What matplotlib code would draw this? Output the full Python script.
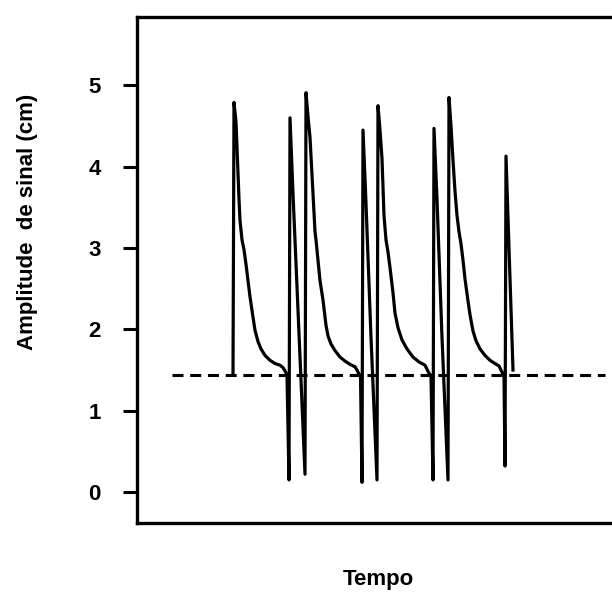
import numpy as np
import matplotlib.pyplot as plt

plt.rcParams['font.family'] = ['Liberation Sans', 'DejaVu Sans']
plt.rcParams['font.weight'] = 'bold'

# signal trace (time in arbitrary units, amplitude in cm)
tempo = [96, 97,
         99, 100, 102, 103, 105, 107, 109, 111, 113, 116, 118, 121, 124, 128, 133, 138, 143, 146, 148, 150,
         152, 153, 156, 162, 168, 169,
         171, 173, 176, 178, 179, 181, 183, 186, 189, 191, 194, 198, 203, 208, 213, 218, 220, 222, 223.5,
         225, 226, 229, 234, 240, 241,
         243, 245, 247, 249, 251, 253, 256, 258, 261, 265, 270, 276, 282, 288, 290, 292, 294,
         296, 297, 300, 305, 311, 312,
         314, 316, 318, 320, 322, 324, 326, 328, 331, 333, 336, 339, 343, 348, 353, 358, 362, 364, 366, 367,
         368, 369, 372, 376]
amplitude = [1.44, 4.79,
             4.55, 4.24, 3.60, 3.34, 3.10, 2.98, 2.80, 2.60, 2.40, 2.15, 1.99, 1.85, 1.76, 1.68, 1.62, 1.58, 1.56, 1.53, 1.49, 1.44,
             0.15, 4.60, 3.67, 1.95, 0.22, 4.91,
             4.62, 4.36, 3.67, 3.20, 3.10, 2.85, 2.60, 2.36, 2.05, 1.92, 1.82, 1.74, 1.66, 1.61, 1.57, 1.54, 1.50, 1.45, 1.43,
             0.12, 4.45, 3.55, 1.90, 0.15, 4.75,
             4.45, 4.10, 3.40, 3.10, 2.95, 2.76, 2.45, 2.20, 2.02, 1.87, 1.76, 1.66, 1.60, 1.56, 1.51, 1.46, 1.43,
             0.15, 4.47, 3.60, 1.90, 0.15, 4.85,
             4.50, 4.08, 3.70, 3.40, 3.20, 3.05, 2.85, 2.62, 2.35, 2.18, 1.98, 1.86, 1.76, 1.68, 1.62, 1.58, 1.55, 1.50, 1.45, 1.43,
             0.32, 4.13, 3.00, 1.50]

linha_base = 1.44
linha_inicio, linha_fim = 35, 468

yticks = [0, 1, 2, 3, 4, 5]

fig = plt.figure(figsize=(6.12, 5.92), dpi=100)
ax = fig.add_axes([137 / 612, 1 - 523 / 592, 1 - 137 / 612, (523 - 17) / 592])

ax.plot(tempo, amplitude, color='black', linewidth=2.3, solid_joinstyle='round')
ax.plot([linha_inicio, linha_fim], [linha_base, linha_base], color='black',
        linewidth=2.2, linestyle=(0, (3.6, 2.2)))

ax.set_xlim(0, 475)
ax.set_ylim(-0.38, 5.84)
ax.set_xticks([])
ax.set_yticks(yticks)
ax.set_yticklabels([str(v) for v in yticks], fontsize=16, fontweight='bold')
ax.tick_params(axis='y', direction='out', length=10, width=2.2, pad=16)

ax.spines['right'].set_visible(False)
for s in ['left', 'top', 'bottom']:
    ax.spines[s].set_linewidth(2.4)

fig.text(28 / 612, 1 - 222 / 592, 'Amplitude  de sinal (cm)', rotation=90,
         ha='center', va='center', fontsize=16, fontweight='bold')
fig.text(378 / 612, 1 - 580 / 592, 'Tempo', ha='center', va='center',
         fontsize=16, fontweight='bold')

fig.savefig('out.png', dpi=100)
